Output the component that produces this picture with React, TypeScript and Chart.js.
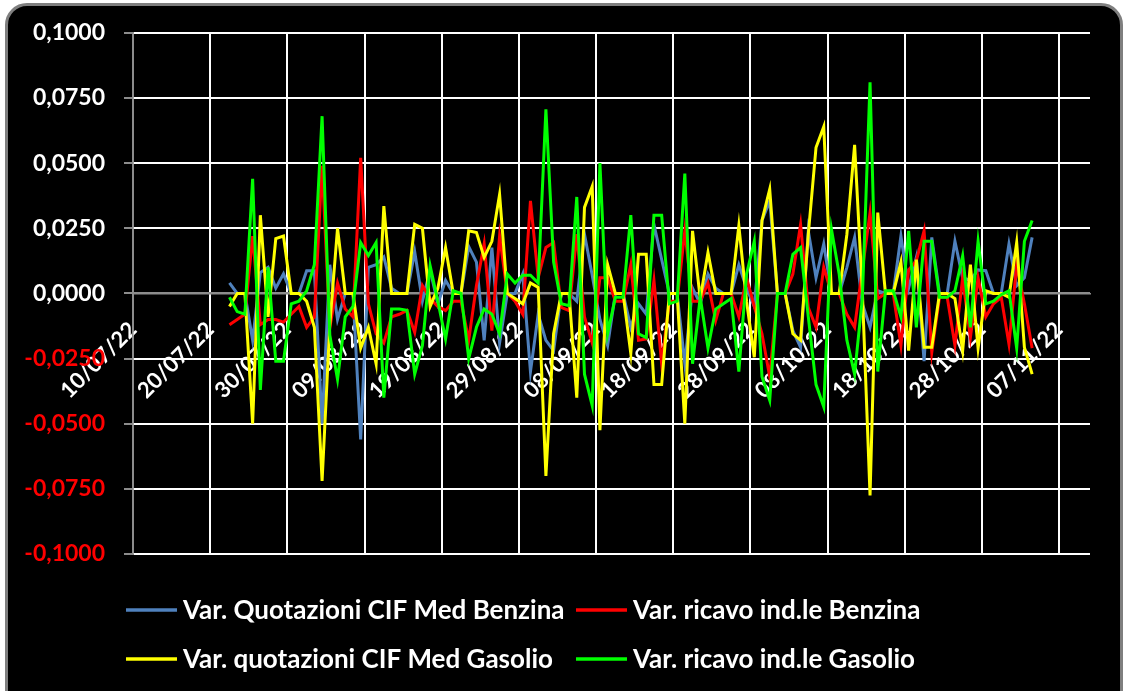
import React, { useEffect, useRef } from 'react';
import { Chart, registerables } from 'chart.js';

Chart.register(...registerables);

// ---- axis definition ----
const axisStart = [2022, 7, 10]; // first date on the x axis (dd/mm/yy = 10/07/22)
const axisSpanDays = 124;
const xStepDays = 10;
const yMin = -0.1;
const yMax = 0.1;
const yStep = 0.025;

// first observation of the daily series
const firstObservation = [2022, 7, 22];

// ---- series ----
const seriesLabels = [
  'Var. Quotazioni CIF Med Benzina',
  'Var. ricavo ind.le Benzina',
  'Var. quotazioni CIF Med Gasolio',
  'Var. ricavo ind.le Gasolio',
];
const seriesColors = ['#4F81BD', '#FF0000', '#FFFF00', '#00FF00'];

const quotBenzina = [
  0.004, 0, 0, -0.018, 0.008, 0.010, 0.002,
  0.0075, 0, 0, 0.0087, 0.0087, -0.050, 0.011,
  -0.010, 0, 0, -0.056, 0.010, 0.011, 0.014,
  0.002, 0, 0, 0.016, -0.003, 0.009, -0.004,
  0.005, 0, 0, 0.018, 0.012, -0.018, 0.0176,
  -0.019, 0, 0, 0.0074, -0.030, -0.008, -0.018,
  -0.022, 0, 0, -0.003, 0.0227, 0.007, -0.010,
  -0.020, 0, 0, -0.013, -0.004, -0.008, 0.0265,
  0.013, 0, 0, -0.027, 0.002, -0.004, 0.0074,
  0.002, 0, 0, 0.011, 0.002, -0.005, 0.028,
  0.0355, 0, 0, -0.0143, -0.0207, 0.024, 0.006,
  0.019, 0, 0, 0.010, 0.0215, -0.004, -0.013,
  0.001, 0, 0, 0.022, 0.002, 0.0138, -0.026,
  0.0215, 0, 0, 0.020, 0.006, 0.005, 0.009,
  0.0087, 0, 0, 0.019, 0.003, 0.006, 0.0215,
];

const ricavoBenzina = [
  -0.012, -0.010, -0.008, 0.022, -0.012, -0.010, -0.010,
  -0.011, -0.008, -0.005, -0.013, -0.009, 0.049, -0.013,
  0.004, -0.006, -0.009, 0.052, -0.004, -0.0155, -0.019,
  -0.009, -0.008, -0.0065, -0.015, 0.003, -0.002, -0.005,
  -0.0066, -0.003, -0.003, -0.018, 0.003, 0.019, -0.0143,
  0.022, 0, -0.003, -0.008, 0.0355, 0.006, 0.0176,
  0.0195, -0.0054, -0.0066, 0.0227, -0.009, -0.019, 0.006,
  0.006, -0.003, -0.003, 0.011, -0.018, -0.0175, 0.005,
  -0.027, -0.003, -0.003, 0.024, -0.003, -0.003, 0.004,
  -0.0105, 0, 0, -0.009, 0.006, -0.005, -0.0155,
  -0.032, 0, 0, 0.0074, 0.0265, -0.0054, -0.013,
  0.010, 0, 0, -0.008, -0.013, 0.009, 0.031,
  -0.002, 0, 0, -0.020, 0.009, 0.0125, 0.024,
  -0.0226, -0.0015, -0.0015, -0.020, 0.006, -0.017, 0.006,
  -0.009, -0.004, -0.0015, -0.0195, 0.011, -0.004, -0.021,
];

const quotGasolio = [
  -0.005, 0, 0, -0.050, 0.030, -0.009, 0.021,
  0.022, 0, 0, -0.003, -0.013, -0.072, -0.012,
  0.025, 0, 0, -0.021, -0.013, -0.027, 0.0335,
  0, 0, 0, 0.0265, 0.025, -0.005, 0.002,
  0.0176, 0, 0, 0.024, 0.0234, 0.0138, 0.020,
  0.038, 0, -0.002, -0.004, 0.004, 0.0023, -0.070,
  -0.0155, 0, 0, -0.040, 0.033, 0.041, -0.0525,
  0.011, 0, 0, -0.023, 0.015, 0.015, -0.035,
  -0.035, 0, 0, -0.050, 0.024, -0.002, 0.0157,
  0, 0, 0, 0.026, -0.003, -0.0245, 0.028,
  0.040, 0, 0, -0.0155, -0.018, 0.0227, 0.056,
  0.064, 0, 0, 0.0227, 0.057, 0.001, -0.0775,
  0.031, 0, 0, 0.012, -0.022, 0.013, -0.0207,
  -0.0207, 0, 0, -0.002, -0.022, 0.011, -0.021,
  0.001, 0, 0, -0.0015, 0.0195, -0.0207, -0.031,
];

const ricavoGasolio = [
  -0.0015, -0.007, -0.008, 0.044, -0.037, 0.010, -0.026,
  -0.026, -0.004, -0.003, 0.001, 0.011, 0.068, -0.016,
  -0.033, -0.009, -0.005, 0.0195, 0.0145, 0.0195, -0.040,
  -0.006, -0.006, -0.0065, -0.031, -0.020, 0.0106, -0.003,
  -0.0175, 0.001, 0, -0.025, -0.013, -0.006, -0.008,
  -0.0155, 0.0074, 0.004, 0.007, 0.007, 0.004, 0.0706,
  0.012, -0.004, -0.0047, 0.037, -0.031, -0.043, 0.050,
  -0.0155, -0.0015, -0.0015, 0.030, -0.0155, -0.017, 0.030,
  0.030, -0.004, -0.003, 0.046, -0.027, -0.0015, -0.021,
  -0.006, -0.004, -0.002, -0.030, 0.0074, 0.020, -0.032,
  -0.041, 0, 0, 0.015, 0.0176, -0.009, -0.035,
  -0.0435, 0.0246, 0.0074, -0.018, -0.031, -0.002, 0.081,
  -0.030, 0.001, 0.001, -0.009, 0.024, -0.013, 0.020,
  0.020, -0.0015, -0.0015, 0.001, 0.0144, -0.013, 0.020,
  -0.004, -0.003, -0.0005, 0.001, -0.021, 0.020, 0.028,
];

const seriesValues = [quotBenzina, ricavoBenzina, quotGasolio, ricavoGasolio];

// ---- helpers ----
const DAY = 86400000;
const utc = (p: number[]) => Date.UTC(p[0], p[1] - 1, p[2]);
const firstOffset = Math.round((utc(firstObservation) - utc(axisStart)) / DAY);
const pad2 = (n: number) => String(n).padStart(2, '0');
const fmtDate = (offset: number) => {
  const d = new Date(utc(axisStart) + Math.round(offset) * DAY);
  return `${pad2(d.getUTCDate())}/${pad2(d.getUTCMonth() + 1)}/${String(d.getUTCFullYear()).slice(2)}`;
};
const fmtNum = (v: number) => (Math.abs(v) < 1e-9 ? 0 : v).toFixed(4).replace('.', ',');

const FONT = 'Lato, "Open Sans", sans-serif';
const GRID_WHITE = '#ffffff';
const AXIS_GREY = '#8c8c8c';

const legendGrid = {
  id: 'legendGrid',
  afterDraw(chart: any, _args: any, opts: any) {
    const { ctx } = chart;
    ctx.save();
    ctx.font = `bold ${opts.fontSize}px ${FONT}`;
    ctx.textBaseline = 'middle';
    ctx.textAlign = 'left';
    chart.data.datasets.forEach((ds: any, i: number) => {
      const col = i % opts.columns;
      const row = Math.floor(i / opts.columns);
      const x = opts.left + col * opts.colGap;
      const y = opts.top + row * opts.rowGap;
      ctx.strokeStyle = ds.borderColor;
      ctx.lineWidth = opts.lineWidth;
      ctx.beginPath();
      ctx.moveTo(x, y);
      ctx.lineTo(x + opts.sampleWidth, y);
      ctx.stroke();
      ctx.fillStyle = opts.color;
      ctx.fillText(ds.label, x + opts.sampleWidth + opts.textGap, y + 1);
    });
    ctx.restore();
  },
};

export default function App() {
  const canvasRef = useRef<HTMLCanvasElement | null>(null);

  useEffect(() => {
    const canvas = canvasRef.current;
    if (!canvas) return;

    const datasets = seriesValues.map((vals, si) => ({
      label: seriesLabels[si],
      data: vals.map((v, i) => ({ x: firstOffset + i + 0.5, y: v })),
      borderColor: seriesColors[si],
      backgroundColor: seriesColors[si],
      borderWidth: 3,
      pointRadius: 0,
      tension: 0,
      fill: false,
      order: seriesValues.length - si,
    }));

    const chart = new Chart(canvas, {
      type: 'line',
      data: { datasets },
      plugins: [legendGrid],
      options: {
        responsive: false,
        animation: false,
        events: [],
        layout: { padding: { left: 0, top: 32, right: 38, bottom: 137 } },
        plugins: {
          legend: { display: false },
          tooltip: { enabled: false },
          legendGrid: {
            left: 126,
            top: 610,
            columns: 2,
            colGap: 450,
            rowGap: 49,
            sampleWidth: 51,
            textGap: 6,
            lineWidth: 3.5,
            fontSize: 26,
            color: '#ffffff',
          },
        } as any,
        scales: {
          x: {
            type: 'linear',
            position: { y: 0 } as any,
            min: 0,
            max: axisSpanDays,
            ticks: {
              stepSize: xStepDays,
              includeBounds: false,
              autoSkip: false,
              minRotation: 45,
              maxRotation: 45,
              padding: 24,
              color: '#ffffff',
              font: { family: FONT, weight: 'bold', size: 22, lineHeight: 1.1 },
              callback: (v: any) => fmtDate(Number(v)),
            },
            grid: {
              color: (c: any) => (c.tick && c.tick.value === 0 ? AXIS_GREY : GRID_WHITE),
              lineWidth: 2,
              drawTicks: false,
            },
            border: { display: true, color: AXIS_GREY, width: 1.5 },
          },
          y: {
            type: 'linear',
            min: yMin,
            max: yMax,
            afterFit: (s: any) => {
              s.width = 133;
            },
            ticks: {
              stepSize: yStep,
              padding: 19,
              color: (c: any) => (c.tick && c.tick.value < -1e-9 ? '#ff0000' : '#ffffff'),
              font: { family: FONT, weight: 'bold', size: 23 },
              callback: (v: any) => fmtNum(Number(v)),
            },
            grid: {
              color: (c: any) => (c.tick && Math.abs(c.tick.value) < 1e-9 ? AXIS_GREY : GRID_WHITE),
              lineWidth: 2,
              drawTicks: true,
              tickLength: 9,
              tickColor: AXIS_GREY,
            },
            border: { display: true, color: AXIS_GREY, width: 1.5 },
          },
        },
      } as any,
    });

    return () => chart.destroy();
  }, []);

  return (
    <div
      style={{
        position: 'fixed',
        left: 0,
        top: 0,
        width: 1128,
        height: 691,
        background: '#ffffff',
        overflow: 'hidden',
      }}
    >
      <div
        style={{
          position: 'absolute',
          left: 5,
          top: 3,
          width: 1118,
          height: 730,
          boxSizing: 'border-box',
          background: '#000000',
          border: '3px solid #7f7f7f',
          borderRadius: 22,
        }}
      />
      <canvas
        ref={canvasRef}
        width={1128}
        height={691}
        style={{ position: 'absolute', left: 0, top: 0 }}
      />
    </div>
  );
}
